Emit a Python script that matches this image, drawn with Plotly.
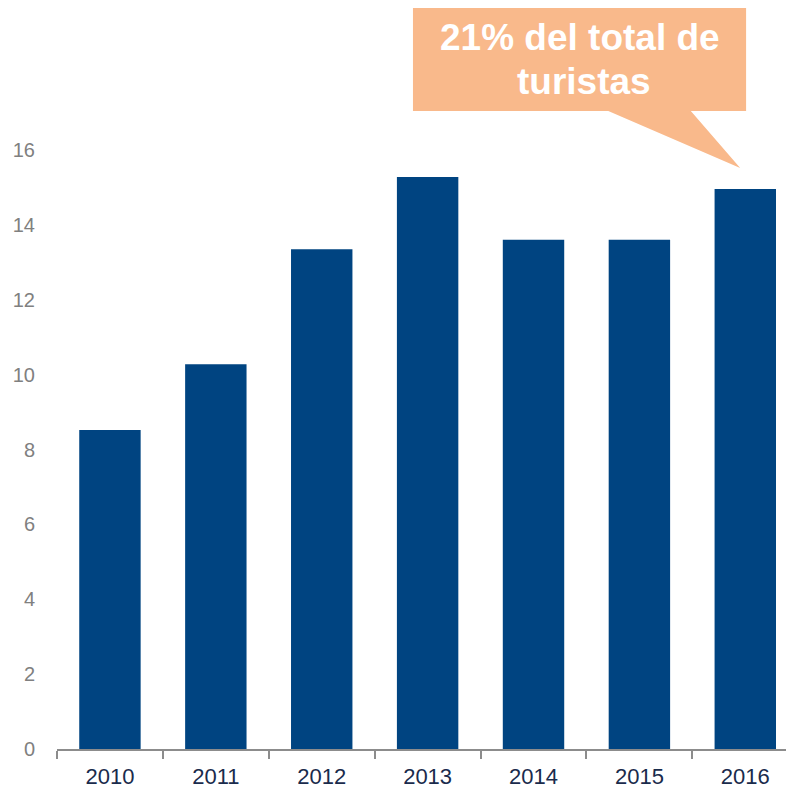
import plotly.graph_objects as go

years = ["2010", "2011", "2012", "2013", "2014", "2015", "2016"]
tourists = [8.52, 10.28, 13.35, 15.28, 13.60, 13.60, 14.96]
y_ticks = [0, 2, 4, 6, 8, 10, 12, 14, 16]
callout_lines = ["21% del total de", "turistas"]

BAR_BLUE = "#004481"
CALLOUT = "#F9B98B"
FONT = "Liberation Sans, Arial, sans-serif"

fig = go.Figure(go.Bar(x=years, y=tourists, marker_color=BAR_BLUE,
                       marker_line_width=0, width=0.58))

# page has an 8px body margin, so the figure is 8px smaller each way
fig.update_layout(
    width=786, height=782,
    margin={"l": 49, "r": 0, "t": 142, "b": 41},
    plot_bgcolor="white", paper_bgcolor="white",
    showlegend=False,
    font={"family": FONT},
)

fig.update_xaxes(
    range=[-0.5, 6.46],
    showline=True, linecolor="#8c8c8c", linewidth=1.5,
    ticks="outside", tickson="boundaries", ticklen=8, tickcolor="#8c8c8c", tickwidth=1.5,
    tickfont={"size": 22, "color": "#1a2b4c"},
    ticklabelstandoff=7,
    showgrid=False,
)
fig.update_yaxes(
    range=[0, 16],
    tickvals=y_ticks,
    showgrid=False, zeroline=False, showline=False,
    tickfont={"size": 20, "color": "#808080"},
    ticklabelstandoff=21,
)

# speech-bubble callout (rectangle with a tail pointing at the 2016 bar)
fig.add_shape(
    type="path", xref="paper", yref="paper",
    path="M 0.483 1.247 L 0.935 1.247 L 0.935 1.065 L 0.860 1.065 "
         "L 0.927 0.970 L 0.748 1.065 L 0.483 1.065 Z",
    fillcolor=CALLOUT, line_width=0, layer="above",
)
for line, xpos, ypos in zip(callout_lines, [0.71, 0.715], [1.188, 1.115]):
    fig.add_annotation(
        xref="paper", yref="paper", x=xpos, y=ypos,
        xanchor="center", yanchor="middle",
        text=line, showarrow=False,
        font={"size": 37, "color": "white", "family": FONT, "weight": "bold"},
    )

fig.write_html("out.html")
